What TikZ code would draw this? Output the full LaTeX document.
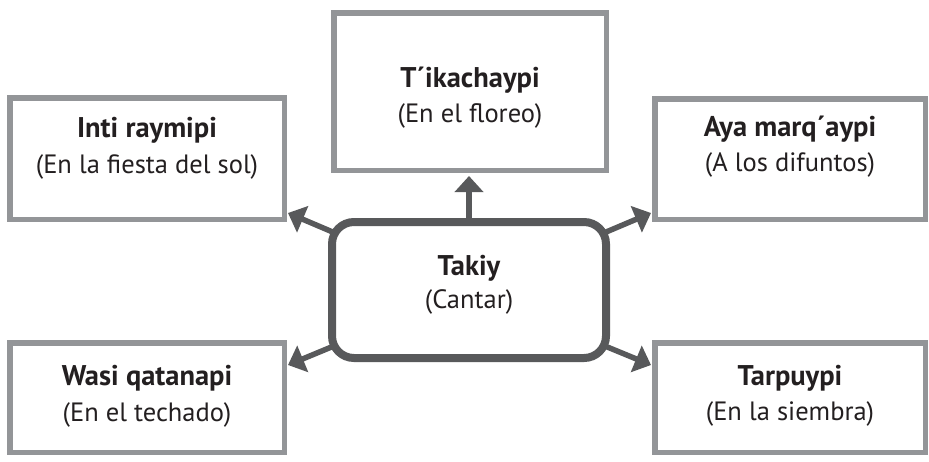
\documentclass[tikz,border=0pt]{standalone}
\usepackage{fontspec}
\setmainfont{PT Sans}
\usetikzlibrary{arrows.meta,backgrounds,calc}
\definecolor{boxgray}{HTML}{939598}
\definecolor{darkgray}{HTML}{58595B}
\definecolor{txt}{HTML}{231F20}
\tikzset{
  sidebox/.style={draw=boxgray, line width=5.5pt, fill=white, inner sep=0pt, rectangle},
  centerbox/.style={draw=darkgray, line width=8pt, fill=white, inner sep=0pt, rounded corners=22pt, rectangle},
  ttl/.style={anchor=base, inner sep=0pt, text=txt, font=\fontsize{28.5}{32}\selectfont\bfseries},
  sub/.style={anchor=base, inner sep=0pt, text=txt, font=\fontsize{26.5}{30}\selectfont},
  arr/.style={draw=darkgray, line width=5.5pt, -{Triangle[length=16pt,width=28pt]}}
}
\begin{document}
\begin{tikzpicture}[x=1pt,y=-1pt]
\useasboundingbox (0,0) rectangle (929,461);
% boxes
\node[sidebox, minimum width=272.5pt, minimum height=157.5pt] (top) at (470,91.5) {};
\node[sidebox, minimum width=274.5pt, minimum height=121.5pt] (tl) at (147,158.5) {};
\node[sidebox, minimum width=270.5pt, minimum height=120.5pt] (tr) at (790,159) {};
\node[sidebox, minimum width=274.5pt, minimum height=109.5pt] (bl) at (147,397.5) {};
\node[sidebox, minimum width=270.5pt, minimum height=109.5pt] (br) at (790,397.5) {};
\node[centerbox, minimum width=274pt, minimum height=136pt] (c) at (469,290) {};
% texts
\node[ttl] (toptitle) at (470,87) {T´ikachaypi};
\node[sub] (topsub) at (470,122) {(En el floreo)};
\node[ttl] (tltitle) at (147,137) {Inti raymipi};
\node[sub] (tlsub) at (147,173) {(En la fiesta del sol)};
\node[ttl] (trtitle) at (790,136) {Aya marq´aypi};
\node[sub] (trsub) at (790,171) {(A los difuntos)};
\node[ttl] (bltitle) at (147,385) {Wasi qatanapi};
\node[sub] (blsub) at (147,421) {(En el techado)};
\node[ttl] (brtitle) at (790,385) {Tarpuypi};
\node[sub] (brsub) at (790,420) {(En la siembra)};
\node[ttl] (ctitle) at (469,275) {Takiy};
\node[sub] (csub) at (469,308) {(Cantar)};
% arrow tips
\coordinate (ttip) at (469,176);
\coordinate (tltip) at ($(tl.south east)+(1,-9)$);
\coordinate (trtip) at ($(tr.south west)+(-1,-9)$);
\coordinate (bltip) at ($(bl.north east)+(1,25)$);
\coordinate (brtip) at ($(br.north west)+(-1,25)$);
\begin{scope}[on background layer]
\draw[arr] (c.center) -- (ttip);
\draw[arr] (c.center) -- (tltip);
\draw[arr] (c.center) -- (trtip);
\draw[arr] (c.center) -- (bltip);
\draw[arr] (c.center) -- (brtip);
\end{scope}
\end{tikzpicture}
\end{document}
